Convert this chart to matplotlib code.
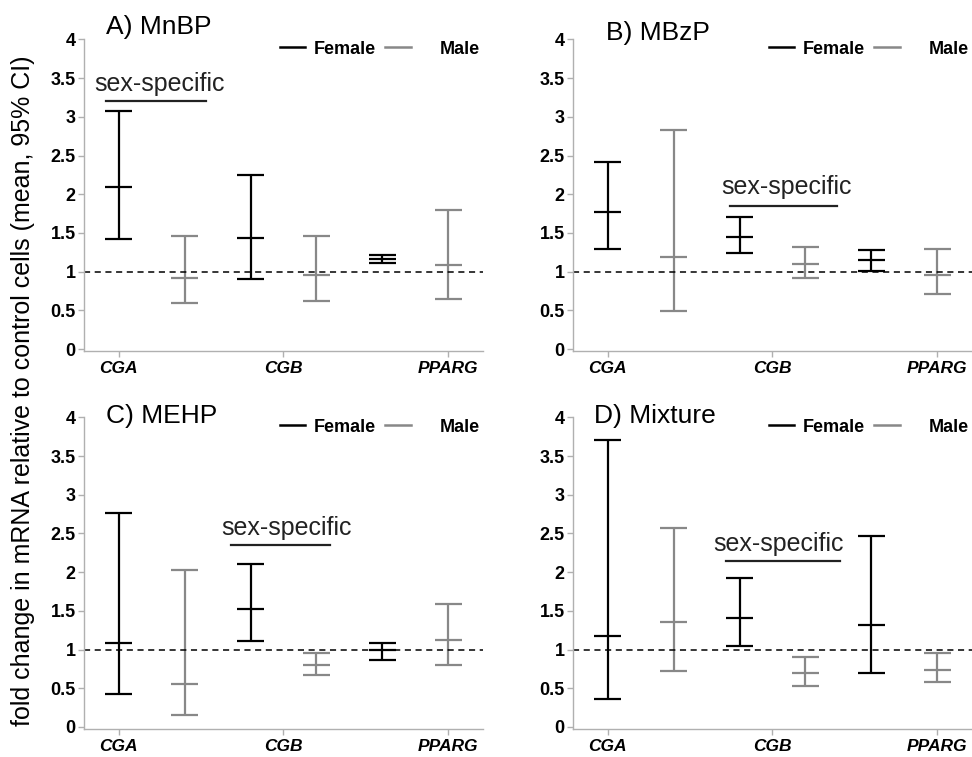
import numpy as np
import matplotlib
matplotlib.use("Agg")
from matplotlib import pyplot as plt
from matplotlib.lines import Line2D

plt.rcParams["font.family"] = ["Liberation Sans", "DejaVu Sans"]

genes = ["CGA", "CGB", "PPARG"]
panels = ["A) MnBP", "B) MBzP", "C) MEHP", "D) Mixture"]

# per panel: [CGA F, CGA M, CGB F, CGB M, PPARG F, PPARG M]
means = [
    [2.09, 0.92, 1.43, 0.96, 1.16, 1.08],
    [1.77, 1.19, 1.45, 1.10, 1.15, 0.96],
    [1.08, 0.56, 1.53, 0.80, 0.99, 1.13],
    [1.17, 1.36, 1.41, 0.70, 1.32, 0.74],
]
lower = [
    [1.42, 0.59, 0.91, 0.62, 1.11, 0.65],
    [1.29, 0.49, 1.24, 0.92, 1.01, 0.71],
    [0.43, 0.15, 1.11, 0.67, 0.86, 0.80],
    [0.36, 0.72, 1.04, 0.53, 0.70, 0.58],
]
upper = [
    [3.08, 1.46, 2.25, 1.46, 1.21, 1.80],
    [2.42, 2.83, 1.71, 1.32, 1.28, 1.29],
    [2.76, 2.03, 2.11, 0.95, 1.08, 1.59],
    [3.71, 2.57, 1.93, 0.91, 2.47, 0.95],
]
sexes = ["Female", "Male", "Female", "Male", "Female", "Male"]

# "sex-specific" bracket per panel
sig_x0 = [-0.20, 1.85, 1.71, 1.80]
sig_x1 = [1.32, 3.48, 3.21, 3.52]
sig_y = [3.20, 1.85, 2.35, 2.15]
sig_tx = [-0.37, 1.72, 1.56, 1.60]
sig_ty = [3.34, 2.00, 2.48, 2.28]

colors = {"Female": "#000000", "Male": "#888888"}
spine_col = "#b0b0b0"

fig = plt.figure(figsize=(9.72, 7.57), dpi=100)

lefts = [0.0864, 0.5895, 0.0864, 0.5895]
bottoms = [0.5359, 0.5359, 0.0366, 0.0366]
title_y = [1.04, 1.02, 1.003, 1.003]
title_x = [0.055, 0.083, 0.055, 0.053]

x = np.arange(6)
half = 0.205

for i in range(4):
    ax = fig.add_axes([lefts[i], bottoms[i], 0.4105, 0.412])
    for j in range(6):
        c = colors[sexes[j]]
        ax.vlines(x[j], lower[i][j], upper[i][j], color=c, lw=1.6)
        ax.hlines([lower[i][j], means[i][j], upper[i][j]], x[j] - half, x[j] + half,
                  color=c, lw=1.6)
    ax.axhline(1, color="black", lw=1.1, ls=(0, (4, 3)))

    ax.plot([sig_x0[i], sig_x1[i]], [sig_y[i], sig_y[i]], color="#222222", lw=1.6)
    ax.text(sig_tx[i], sig_ty[i], "sex-specific", fontsize=18, va="baseline",
            ha="left", color="#222222")

    ax.set_xlim(-0.53, 5.53)
    ax.set_ylim(-0.03, 4.0)
    ax.set_yticks(np.arange(0, 4.01, 0.5))
    ax.set_yticklabels(["%g" % v for v in np.arange(0, 4.01, 0.5)],
                       fontweight="bold", fontsize=13)
    ax.set_xticks([0, 2.5, 5])
    ax.set_xticklabels(genes, fontweight="bold", fontstyle="italic", fontsize=12.5)
    ax.tick_params(axis="both", color=spine_col, length=4, width=1, direction="out")
    ax.tick_params(axis="y", pad=2)
    ax.tick_params(axis="x", pad=3)
    for s in ["top", "right"]:
        ax.spines[s].set_visible(False)
    for s in ["left", "bottom"]:
        ax.spines[s].set_color(spine_col)
        ax.spines[s].set_linewidth(1)

    ax.text(title_x[i], title_y[i], panels[i], transform=ax.transAxes,
            fontsize=19, ha="left", va="center")

    h_f = Line2D([], [], color=colors["Female"], lw=1.8)
    h_m = Line2D([], [], color=colors["Male"], lw=1.8)
    leg1 = ax.legend([h_f], ["Female"], loc="center left", bbox_to_anchor=(0.491, 0.969),
                     frameon=False, borderpad=0, borderaxespad=0, handlelength=1.4,
                     handletextpad=0.5, prop={"weight": "bold", "size": 13})
    ax.add_artist(leg1)
    ax.legend([h_m], ["Male"], loc="center left", bbox_to_anchor=(0.755, 0.969),
              frameon=False, borderpad=0, borderaxespad=0, handlelength=1.4,
              handletextpad=1.6, prop={"weight": "bold", "size": 13})

fig.text(0.024, 0.484, "fold change in mRNA relative to control cells (mean, 95% CI)",
         rotation=90, ha="center", va="center", fontsize=18)

fig.savefig("out.png", dpi=100)
